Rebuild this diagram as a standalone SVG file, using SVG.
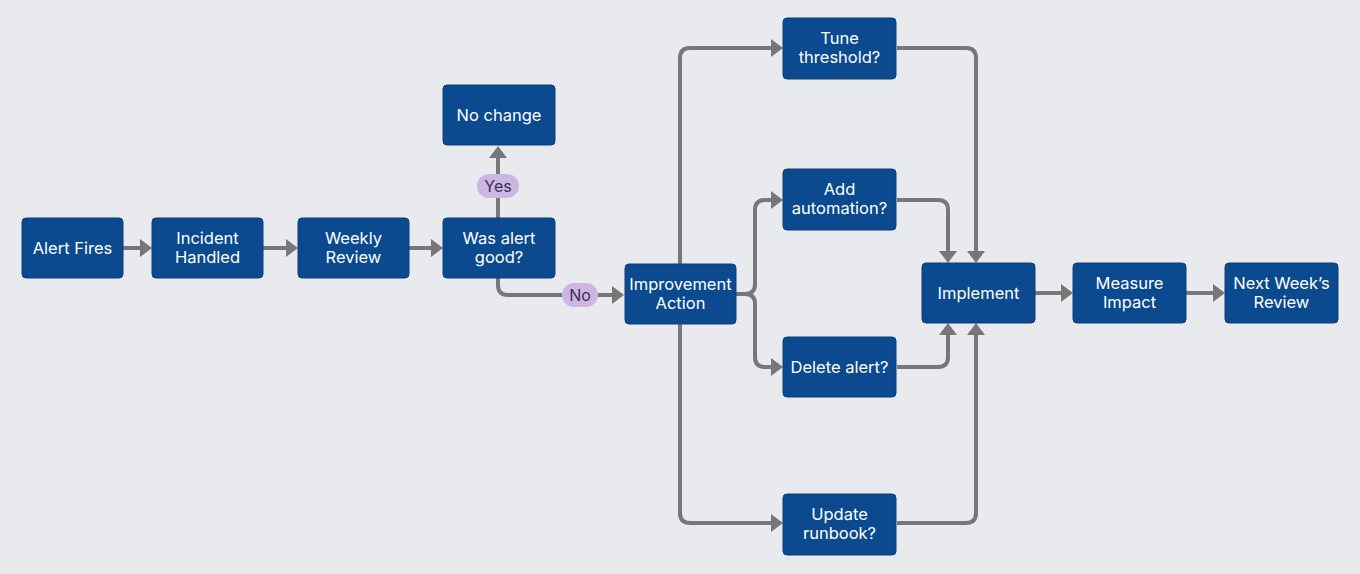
<svg xmlns="http://www.w3.org/2000/svg" width="1360" height="574" viewBox="0 0 1360 574">
<defs>
<marker id="arr" markerUnits="userSpaceOnUse" markerWidth="14" markerHeight="20" refX="4" refY="9" orient="auto">
<path d="M0,0 L12,9 L0,18 z" fill="#777779"/>
</marker>
<style>
.node rect{fill:#0B4A8E;stroke:#0A3F7A;stroke-width:1}
.node text{fill:#ffffff;font-family:Inter,"Noto Sans","Liberation Sans",sans-serif;font-size:16.5px;text-anchor:middle;dominant-baseline:central}
.conn path{fill:none;stroke:#777779;stroke-width:4;marker-end:url(#arr)}
.pill rect{fill:#CDB6E3}
.pill text{fill:#3A2E50;font-family:Inter,"Noto Sans","Liberation Sans",sans-serif;font-size:16px;text-anchor:middle;dominant-baseline:central}
</style>
</defs>
<rect width="1360" height="574" fill="#E8EAEE"/>
<g id="connectors" class="conn">
<path d="M123,248 H144"/>
<path d="M263,248 H290"/>
<path d="M409,248 H435"/>
<path d="M498,218 V154"/>
<path d="M498,278 V285 Q498,295 508,295 H616"/>
<path d="M680,264 V58 Q680,48 690,48 H775"/>
<path d="M680,324 V513 Q680,523 690,523 H775"/>
<path d="M736,294 H745 Q755,294 755,284 V210 Q755,200 765,200 H775"/>
<path d="M736,294 H745 Q755,294 755,304 V357 Q755,367 765,367 H775"/>
<path d="M897,48 H966 Q976,48 976,58 V255"/>
<path d="M897,200 H938 Q948,200 948,210 V255"/>
<path d="M897,367 H938 Q948,367 948,357 V331"/>
<path d="M897,523 H966 Q976,523 976,513 V331"/>
<path d="M1035,293 H1065"/>
<path d="M1186,293 H1217"/>
</g>
<g id="pill-yes" class="pill"><rect x="477" y="174" width="42" height="24" rx="12"/><text x="498" y="186">Yes</text></g>
<g id="pill-no" class="pill"><rect x="562" y="283" width="36" height="24" rx="12"/><text x="580" y="295">No</text></g>
<g id="alert-fires" class="node"><rect x="22" y="218" width="101" height="60" rx="4"/><text x="72.5" y="248">Alert Fires</text></g>
<g id="incident-handled" class="node"><rect x="152" y="218" width="111" height="60" rx="4"/><text x="207.5" y="238">Incident</text><text x="207.5" y="257">Handled</text></g>
<g id="weekly-review" class="node"><rect x="298" y="218" width="111" height="60" rx="4"/><text x="353.5" y="238">Weekly</text><text x="353.5" y="257">Review</text></g>
<g id="was-alert-good" class="node"><rect x="443" y="218" width="112" height="60" rx="4"/><text x="499" y="238">Was alert</text><text x="499" y="257">good?</text></g>
<g id="no-change" class="node"><rect x="443" y="85" width="112" height="60" rx="4"/><text x="499" y="115">No change</text></g>
<g id="improvement-action" class="node"><rect x="625" y="264" width="111" height="60" rx="4"/><text x="680.5" y="284">Improvement</text><text x="680.5" y="303">Action</text></g>
<g id="tune-threshold" class="node"><rect x="783" y="18" width="113" height="61" rx="4"/><text x="839.5" y="38">Tune</text><text x="839.5" y="57">threshold?</text></g>
<g id="add-automation" class="node"><rect x="783" y="169" width="113" height="61" rx="4"/><text x="839.5" y="189">Add</text><text x="839.5" y="208">automation?</text></g>
<g id="delete-alert" class="node"><rect x="783" y="337" width="113" height="60" rx="4"/><text x="839.5" y="367">Delete alert?</text></g>
<g id="update-runbook" class="node"><rect x="783" y="494" width="113" height="61" rx="4"/><text x="839.5" y="514">Update</text><text x="839.5" y="533">runbook?</text></g>
<g id="implement" class="node"><rect x="922" y="263" width="113" height="60" rx="4"/><text x="978.5" y="293">Implement</text></g>
<g id="measure-impact" class="node"><rect x="1073" y="263" width="113" height="60" rx="4"/><text x="1129.5" y="283">Measure</text><text x="1129.5" y="302">Impact</text></g>
<g id="next-weeks-review" class="node"><rect x="1225" y="263" width="113" height="60" rx="4"/><text x="1281.5" y="283">Next Week’s</text><text x="1281.5" y="302">Review</text></g>
</svg>
